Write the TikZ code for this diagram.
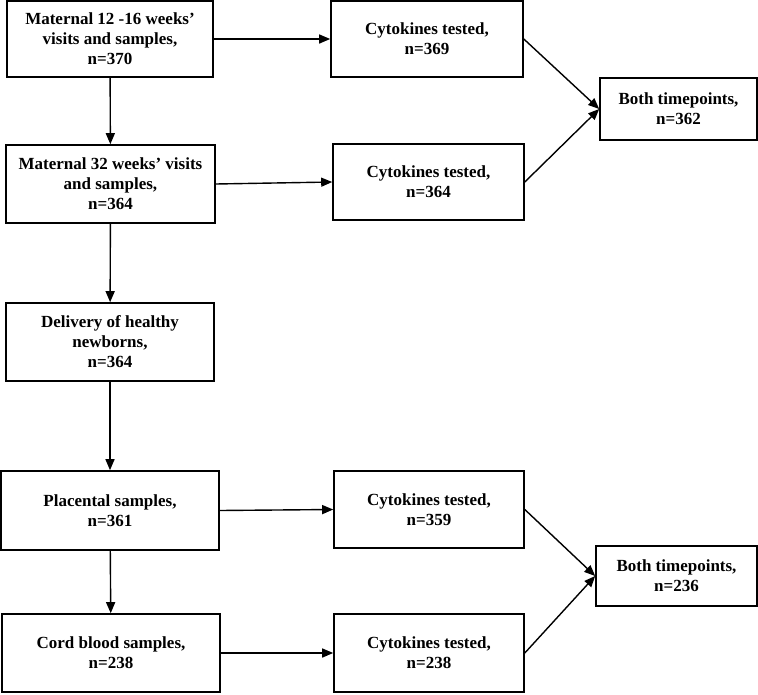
\documentclass[tikz,border=0pt]{standalone}
\usepackage{fontspec}
\setmainfont{Liberation Serif}
\usetikzlibrary{arrows.meta}
\begin{document}
\begin{tikzpicture}[
    x=1pt, y=-1pt,
    sbox/.style={draw, line width=1.6pt, align=center, inner sep=0pt, font=\bfseries\fontsize{17}{20}\selectfont},
    flow/.style={-{Triangle[length=11pt,width=9pt]}, line width=1.4pt},
]
\useasboundingbox (0,0) rectangle (758,694);

% main column
\node[sbox, minimum width=206pt, minimum height=76pt] (mat1) at (110,39) {Maternal 12 -16 weeks'\\ visits and samples,\\ n=370};
\node[sbox, minimum width=209pt, minimum height=78pt] (mat2) at (110.5,184) {Maternal 32 weeks' visits\\ and samples,\\ n=364};
\node[sbox, minimum width=208pt, minimum height=78pt] (deliv) at (110,342) {Delivery of healthy\\ newborns,\\ n=364};
\node[sbox, minimum width=218pt, minimum height=79pt] (plac) at (110,510.5) {Placental samples,\\ n=361};
\node[sbox, minimum width=218pt, minimum height=78pt] (cord) at (111,653) {Cord blood samples,\\ n=238};

% cytokine boxes
\node[sbox, minimum width=192pt, minimum height=76pt] (cyt1) at (427,39) {Cytokines tested,\\ n=369};
\node[sbox, minimum width=191pt, minimum height=76pt] (cyt2) at (428.5,182) {Cytokines tested,\\ n=364};
\node[sbox, minimum width=190pt, minimum height=77pt] (cyt3) at (429,509.5) {Cytokines tested,\\ n=359};
\node[sbox, minimum width=190pt, minimum height=78pt] (cyt4) at (429,653) {Cytokines tested,\\ n=238};

% both timepoints
\node[sbox, minimum width=157pt, minimum height=62pt] (both1) at (678.5,109) {Both timepoints,\\ n=362};
\node[sbox, minimum width=161pt, minimum height=60pt] (both2) at (676.5,576) {Both timepoints,\\ n=236};

\draw[flow] (mat1) -- (mat2);
\draw[flow] (mat2) -- (deliv);
\draw[flow] (deliv) -- (plac);
\draw[flow] (plac) -- (cord);

\draw[flow] (mat1) -- (cyt1);
\draw[flow] (mat2.east) -- (cyt2.west);
\draw[flow] (plac.east) -- (cyt3.west);
\draw[flow] (cord.east) -- (cyt4.west);

\draw[flow] (cyt1.east) -- (both1.west);
\draw[flow] (cyt2.east) -- (both1.west);
\draw[flow] (cyt3.east) -- (both2.west);
\draw[flow] (cyt4.east) -- (both2.west);
\end{tikzpicture}
\end{document}
